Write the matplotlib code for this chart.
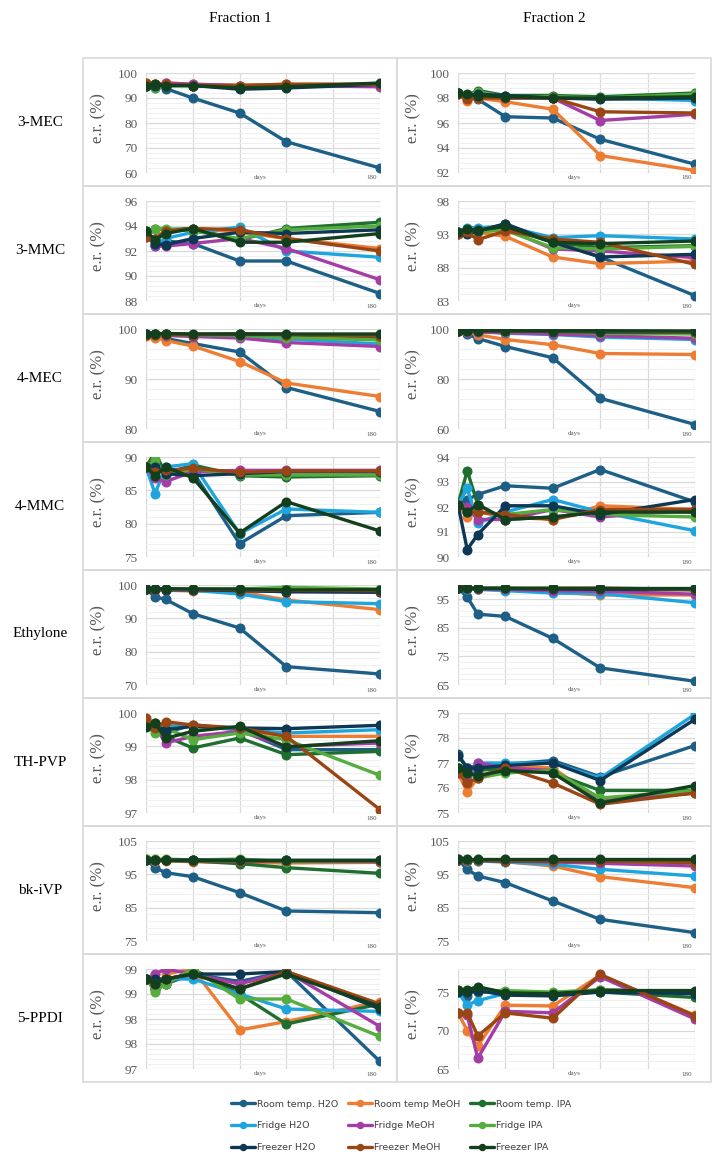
import numpy as np
import matplotlib.pyplot as plt
from matplotlib.patches import Rectangle
from matplotlib.ticker import FixedLocator

# sampling days (x axis)
days = [0, 7, 15, 36, 72, 108, 180]
grid_days = [0, 36, 72, 108, 144, 180]

series = ['Room temp. H2O', 'Room temp MeOH', 'Room temp. IPA',
          'Fridge H2O', 'Fridge MeOH', 'Fridge IPA',
          'Freezer H2O', 'Freezer MeOH', 'Freezer IPA']
colors = ['#1d5f87', '#ee7d34', '#1f6e2f',
          '#1ea5de', '#a43da6', '#54ad3c',
          '#0e3754', '#9a4614', '#123f1d']

compounds = ['3-MEC', '3-MMC', '4-MEC', '4-MMC', 'Ethylone', 'TH-PVP', 'bk-iVP', '5-PPDI']
fractions = ['Fraction 1', 'Fraction 2']

# e.r. (%) per series (same order as `series`)
mec3_f1 = [[95.5, 95.0, 93.8, 90.0, 84.0, 72.5, 62.0],
           [96.0, 95.5, 96.0, 95.5, 95.0, 95.5, 95.5],
           [95.5, 95.0, 95.0, 95.0, 94.0, 94.5, 95.5],
           [95.0, 94.0, 95.0, 95.0, 94.5, 95.0, 95.0],
           [95.5, 95.0, 96.0, 95.5, 95.0, 95.0, 94.5],
           [95.0, 94.0, 95.0, 95.0, 94.5, 95.0, 95.5],
           [95.0, 95.0, 95.0, 95.0, 93.5, 94.0, 95.5],
           [96.0, 95.5, 95.5, 95.0, 95.0, 95.5, 95.5],
           [95.0, 95.5, 95.0, 95.0, 94.0, 94.5, 96.0]]
mec3_f2 = [[98.4, 98.2, 97.9, 96.5, 96.4, 94.7, 92.7],
           [98.4, 97.8, 98.0, 97.7, 97.1, 93.4, 92.2],
           [98.4, 98.2, 98.6, 98.2, 98.2, 98.1, 98.4],
           [98.4, 98.0, 98.2, 98.0, 98.0, 98.0, 97.8],
           [98.3, 98.0, 98.1, 98.0, 98.0, 96.2, 96.7],
           [98.4, 98.2, 98.5, 98.1, 98.1, 98.0, 98.3],
           [98.4, 98.2, 98.3, 98.2, 98.0, 97.9, 98.0],
           [98.3, 97.9, 98.0, 98.0, 98.0, 96.9, 96.8],
           [98.4, 98.3, 98.2, 98.1, 98.0, 98.0, 98.1]]
mmc3_f1 = [[93.3, 92.5, 92.8, 92.6, 91.2, 91.2, 88.6],
           [93.1, 93.0, 93.6, 93.8, 93.5, 93.0, 92.2],
           [93.6, 93.8, 93.7, 93.8, 92.9, 93.8, 94.3],
           [93.5, 92.4, 93.0, 93.5, 93.9, 92.0, 91.5],
           [93.3, 92.4, 92.4, 92.6, 93.0, 92.2, 89.7],
           [93.5, 93.8, 93.8, 93.6, 93.0, 93.7, 94.0],
           [93.5, 92.6, 92.5, 93.0, 93.5, 93.4, 93.7],
           [93.1, 93.0, 93.6, 93.8, 93.7, 93.0, 92.0],
           [93.6, 92.9, 93.4, 93.8, 92.7, 92.7, 93.4]]
mmc3_f2 = [[93.2, 93.3, 93.5, 94.5, 92.0, 89.6, 83.8],
           [93.0, 93.2, 93.3, 92.7, 89.6, 88.6, 89.0],
           [93.3, 93.8, 93.5, 94.0, 91.8, 91.0, 91.3],
           [93.3, 94.0, 94.0, 94.2, 92.5, 92.8, 92.3],
           [93.0, 93.5, 93.6, 93.8, 90.8, 90.5, 89.5],
           [93.2, 93.8, 93.4, 93.6, 91.0, 90.8, 91.2],
           [93.2, 93.0, 93.5, 94.6, 91.8, 89.6, 90.0],
           [93.0, 93.3, 92.2, 93.5, 92.3, 91.8, 88.5],
           [93.3, 93.8, 93.6, 94.2, 91.8, 91.6, 92.0]]
mec4_f1 = [[99.0, 98.5, 98.1, 97.1, 95.4, 88.3, 83.5],
           [98.6, 98.3, 97.7, 96.6, 93.5, 89.2, 86.5],
           [99.0, 99.0, 99.0, 98.9, 99.0, 98.9, 98.2],
           [99.0, 98.9, 98.9, 98.7, 98.5, 98.0, 97.0],
           [98.8, 98.8, 98.7, 98.5, 98.2, 97.3, 96.5],
           [99.0, 98.9, 98.9, 98.8, 98.7, 98.3, 97.8],
           [99.0, 99.0, 99.0, 98.9, 98.9, 98.9, 98.7],
           [98.8, 98.8, 98.8, 98.9, 99.0, 98.9, 98.6],
           [99.1, 99.1, 99.1, 99.0, 99.0, 99.0, 99.0]]
mec4_f2 = [[99.3, 97.9, 96.2, 93.0, 88.5, 72.3, 61.8],
           [99.3, 98.8, 97.7, 95.8, 93.7, 90.2, 89.8],
           [99.3, 99.3, 99.3, 99.2, 99.2, 99.0, 98.5],
           [99.2, 99.0, 99.0, 98.3, 97.8, 96.8, 95.8],
           [99.2, 99.0, 98.8, 98.5, 98.0, 97.3, 96.3],
           [99.3, 99.2, 99.2, 99.0, 99.0, 98.3, 98.0],
           [99.3, 99.3, 99.3, 99.2, 99.0, 98.8, 98.8],
           [99.3, 99.2, 99.2, 99.2, 99.2, 99.2, 98.9],
           [99.3, 99.3, 99.3, 99.3, 99.3, 99.3, 99.2]]
mmc4_f1 = [[88.5, 89.2, 87.5, 87.8, 77.0, 81.2, 81.7],
           [88.5, 87.8, 87.5, 88.0, 87.9, 87.9, 87.8],
           [88.5, 90.7, 87.5, 88.8, 87.2, 87.0, 87.2],
           [88.5, 84.5, 88.5, 89.0, 78.5, 82.2, 81.7],
           [88.5, 86.8, 86.3, 87.8, 88.0, 88.0, 88.0],
           [88.5, 89.5, 87.3, 88.3, 87.3, 87.3, 87.3],
           [88.5, 88.5, 87.5, 87.2, 87.5, 87.8, 87.8],
           [88.5, 87.8, 88.0, 88.3, 87.7, 87.9, 87.9],
           [88.5, 87.2, 88.5, 86.9, 78.6, 83.3, 78.9]]
mmc4_f2 = [[92.1, 92.3, 92.5, 92.85, 92.75, 93.5, 92.2],
           [92.1, 91.6, 91.8, 91.6, 91.5, 92.05, 91.9],
           [92.1, 93.45, 92.1, 91.5, 91.6, 91.8, 91.8],
           [92.1, 92.75, 91.35, 91.8, 92.3, 91.8, 91.05],
           [92.1, 92.0, 91.5, 91.5, 91.9, 91.6, 91.9],
           [92.1, 91.8, 91.8, 91.7, 91.9, 91.7, 91.6],
           [92.1, 90.3, 90.9, 92.05, 92.05, 91.7, 92.3],
           [92.1, 91.8, 91.8, 91.7, 91.5, 91.9, 91.9],
           [92.1, 91.8, 92.1, 91.5, 91.6, 91.8, 91.8]]
eth_f1 = [[98.8, 96.4, 95.7, 91.4, 87.1, 75.5, 73.3],
          [98.8, 98.7, 98.5, 98.2, 98.0, 95.5, 92.6],
          [98.8, 98.8, 98.7, 98.6, 98.5, 98.3, 98.5],
          [98.8, 98.7, 98.6, 98.4, 97.3, 95.0, 94.4],
          [98.8, 98.6, 98.6, 98.5, 98.4, 98.0, 98.0],
          [98.8, 98.8, 98.8, 98.8, 98.8, 99.3, 98.8],
          [98.8, 98.7, 98.6, 98.6, 98.3, 98.0, 97.8],
          [98.8, 98.8, 98.7, 98.7, 98.6, 98.4, 98.3],
          [98.9, 98.9, 98.9, 98.8, 98.8, 98.5, 98.6]]
eth_f2 = [[99.0, 95.8, 89.8, 89.0, 81.3, 71.0, 66.3],
          [99.0, 98.8, 98.5, 98.3, 97.5, 96.5, 96.5],
          [99.0, 99.0, 98.9, 98.8, 98.8, 98.8, 98.6],
          [99.0, 98.7, 98.5, 98.0, 97.2, 97.0, 93.8],
          [99.0, 98.8, 98.6, 98.5, 98.0, 97.8, 96.8],
          [99.0, 99.0, 98.9, 98.9, 98.9, 98.7, 98.5],
          [99.0, 99.0, 98.8, 98.8, 98.6, 98.5, 98.3],
          [99.0, 98.9, 98.8, 98.8, 98.8, 98.9, 98.5],
          [99.0, 99.0, 99.0, 99.0, 99.0, 99.0, 99.0]]
thpvp_f1 = [[99.6, 99.65, 99.4, 99.65, 99.5, 98.9, 98.9],
            [99.8, 99.6, 99.7, 99.6, 99.5, 99.3, 99.3],
            [99.6, 99.7, 99.3, 98.95, 99.25, 98.75, 98.85],
            [99.6, 99.6, 99.6, 99.6, 99.5, 99.4, 99.5],
            [99.6, 99.6, 99.1, 99.3, 99.45, 99.0, 99.1],
            [99.6, 99.4, 99.55, 99.2, 99.4, 99.2, 98.13],
            [99.6, 99.6, 99.5, 99.6, 99.55, 99.53, 99.63],
            [99.84, 99.55, 99.74, 99.64, 99.55, 99.3, 97.1],
            [99.58, 99.7, 99.24, 99.45, 99.6, 98.98, 99.17]]
thpvp_f2 = [[77.35, 76.8, 76.9, 76.95, 77.1, 76.45, 77.7],
            [76.6, 75.85, 76.4, 76.9, 76.8, 75.5, 75.8],
            [76.8, 76.6, 76.7, 76.8, 76.6, 75.9, 75.9],
            [76.8, 76.3, 77.0, 77.0, 77.0, 76.4, 78.95],
            [76.8, 76.5, 77.0, 76.8, 76.7, 75.5, 75.8],
            [76.8, 76.6, 76.4, 76.6, 76.7, 75.6, 75.9],
            [77.3, 76.8, 76.8, 76.9, 77.0, 76.3, 78.75],
            [76.6, 76.2, 76.4, 76.8, 76.2, 75.35, 75.8],
            [76.8, 76.6, 76.5, 76.7, 76.6, 75.4, 76.1]]
bkivp_f1 = [[99.5, 97.0, 95.5, 94.3, 89.5, 84.0, 83.5],
            [99.2, 99.0, 99.0, 98.8, 98.6, 98.4, 98.6],
            [99.3, 99.3, 99.3, 99.0, 98.2, 97.0, 95.3],
            [99.3, 99.2, 99.2, 99.0, 99.0, 98.8, 98.8],
            [99.4, 99.3, 99.3, 99.2, 99.0, 98.9, 98.8],
            [99.5, 99.5, 99.6, 99.3, 99.6, 98.8, 99.0],
            [99.3, 99.3, 99.3, 99.3, 99.2, 99.2, 99.2],
            [99.2, 99.2, 99.2, 99.0, 99.0, 99.0, 99.0],
            [99.3, 99.3, 99.3, 99.3, 99.3, 99.3, 99.3]]
bkivp_f2 = [[99.5, 96.5, 94.5, 92.5, 87.0, 81.5, 77.5],
            [99.3, 99.0, 99.0, 98.8, 97.5, 94.3, 91.0],
            [99.3, 99.2, 99.2, 99.1, 99.0, 99.0, 99.0],
            [99.3, 99.0, 99.0, 98.7, 98.0, 96.5, 94.5],
            [99.3, 99.3, 99.2, 99.0, 98.7, 98.3, 97.5],
            [99.3, 99.3, 99.3, 99.2, 99.1, 99.0, 98.5],
            [99.4, 99.3, 99.2, 99.0, 99.0, 99.0, 99.0],
            [99.3, 99.2, 99.2, 99.0, 99.0, 99.0, 98.5],
            [99.5, 99.5, 99.5, 99.5, 99.5, 99.5, 99.5]]
ppdi_f1 = [[98.8, 98.6, 98.7, 98.9, 98.75, 98.95, 97.15],
           [98.8, 98.6, 98.9, 99.0, 97.78, 97.95, 98.35],
           [98.8, 98.6, 98.7, 99.0, 98.5, 97.9, 98.3],
           [98.8, 98.7, 98.8, 98.8, 98.5, 98.2, 98.15],
           [98.8, 98.9, 99.0, 98.9, 98.7, 98.95, 97.85],
           [98.8, 98.55, 98.7, 99.0, 98.4, 98.4, 97.65],
           [98.8, 98.8, 98.8, 98.9, 98.9, 98.95, 98.2],
           [98.8, 98.7, 98.8, 98.9, 98.6, 98.95, 98.3],
           [98.8, 98.7, 98.8, 98.9, 98.6, 98.9, 98.25]]
ppdi_f2 = [[75.2, 74.5, 75.5, 75.0, 74.8, 75.3, 75.0],
           [72.3, 70.0, 68.0, 73.3, 73.2, 77.2, 72.0],
           [75.0, 75.0, 75.0, 75.0, 74.8, 75.0, 74.3],
           [75.0, 73.3, 73.9, 74.8, 74.8, 75.2, 75.0],
           [72.3, 72.0, 66.4, 72.5, 72.3, 77.0, 71.5],
           [75.3, 75.2, 75.2, 75.2, 75.0, 75.3, 75.0],
           [75.0, 75.0, 75.2, 74.6, 74.5, 75.0, 74.8],
           [72.3, 72.3, 69.3, 72.3, 71.6, 77.3, 71.9],
           [75.3, 75.3, 75.7, 74.9, 74.8, 75.2, 75.2]]

panel_values = [[mec3_f1, mec3_f2], [mmc3_f1, mmc3_f2], [mec4_f1, mec4_f2],
                [mmc4_f1, mmc4_f2], [eth_f1, eth_f2], [thpvp_f1, thpvp_f2],
                [bkivp_f1, bkivp_f2], [ppdi_f1, ppdi_f2]]

# y axis: (min, max, major step) per panel; ticks start at min like Excel
y_axes = [[(60, 100, 10), (92, 100, 2)],
          [(88, 96, 2), (83, 98, 5)],
          [(80, 100, 10), (60, 100, 20)],
          [(75, 90, 5), (90, 94, 1)],
          [(70, 100, 10), (65, 100, 10)],
          [(97, 100, 1), (75, 79, 1)],
          [(75, 105, 10), (75, 105, 10)],
          [(97, 99, 0.5), (65, 78, 5)]]
# Excel rounds 97.5 -> 98 and 98.5 -> 99 with 0 decimals
ppdi_f1_ticklabels = ['97', '98', '98', '99', '99']

W, H = 723, 1161
fig = plt.figure(figsize=(W / 100, H / 100), dpi=100)
serif = ['Liberation Serif', 'DejaVu Serif']

def fx(px):
    return px / W

def fy(py):
    return 1 - py / H

row_top0, row_h = 58, 128
panel_x = [(83, 397), (397, 711)]
plot_x = [(146, 380), (458, 695)]
ylabel_x = [106, 421]

for c, frac in enumerate(fractions):
    fig.text(fx((panel_x[c][0] + panel_x[c][1]) / 2), fy(19), frac,
             family=serif, fontsize=11, ha='center', va='center')

handles = None
for r, comp in enumerate(compounds):
    top = row_top0 + r * row_h
    fig.text(fx(40), fy(top + row_h / 2), comp, family=serif, fontsize=11,
             ha='center', va='center')
    for c in range(2):
        # chart border
        fig.patches.append(Rectangle((fx(panel_x[c][0]), fy(top + row_h)),
                                     fx(panel_x[c][1] - panel_x[c][0]), row_h / H,
                                     transform=fig.transFigure, fill=False,
                                     edgecolor='#d9d9d9', lw=1.2))
        x0, x1 = plot_x[c]
        ax = fig.add_axes([fx(x0), fy(top + 115), fx(x1 - x0), 100 / H])
        vals = panel_values[r][c]
        lines = []
        for s in range(len(series)):
            ln, = ax.plot(days, vals[s], color=colors[s], lw=2.4, marker='o',
                          ms=6.2, label=series[s], solid_capstyle='round')
            lines.append(ln)
        if handles is None:
            handles = lines
        ymin, ymax, step = y_axes[r][c]
        ax.set_ylim(ymin, ymax)
        ax.set_xlim(0, 180)
        major = np.arange(ymin, ymax + 1e-6, step)
        minor = np.arange(ymin, ymax + 1e-6, step / 5)
        ax.yaxis.set_major_locator(FixedLocator(major))
        ax.yaxis.set_minor_locator(FixedLocator(minor))
        ax.xaxis.set_major_locator(FixedLocator(grid_days))
        ax.set_xticklabels([])
        if comp == '5-PPDI' and c == 0:
            ax.set_yticklabels(ppdi_f1_ticklabels)
        else:
            ax.set_yticklabels([f'{v:.0f}' for v in major])
        ax.tick_params(axis='both', which='both', length=0)
        ax.tick_params(axis='y', labelsize=9.5, labelcolor='#595959', pad=6)
        for lab in ax.get_yticklabels():
            lab.set_family(serif)
        ax.grid(True, which='major', color='#d9d9d9', lw=0.9)
        ax.grid(True, which='minor', axis='y', color='#efefef', lw=0.7)
        ax.set_axisbelow(True)
        for sp in ax.spines.values():
            sp.set_visible(False)
        ax.set_ylabel('e.r. (%)', family=serif, fontsize=12, color='#595959')
        ax.yaxis.set_label_coords((ylabel_x[c] - x0) / (x1 - x0), 0.55)
        ax.text(0.49, -0.025, 'days', transform=ax.transAxes, ha='center',
                va='top', fontsize=5, family=serif, color='#595959')
        ax.text(0.965, -0.025, '180', transform=ax.transAxes, ha='center',
                va='top', fontsize=5, family=serif, color='#595959')

# legend laid out row-wise like the original
order = [0, 3, 6, 1, 4, 7, 2, 5, 8]
fig.legend([handles[i] for i in order], [series[i] for i in order],
           loc='center', bbox_to_anchor=(fx(401), fy(1126)), ncol=3,
           frameon=False, handlelength=2.6, columnspacing=1.0,
           labelspacing=1.35, handletextpad=0.2, markerscale=0.7,
           labelcolor='#404040',
           prop={'family': 'DejaVu Sans', 'size': 6.8})

fig.savefig('out.png', dpi=100)
